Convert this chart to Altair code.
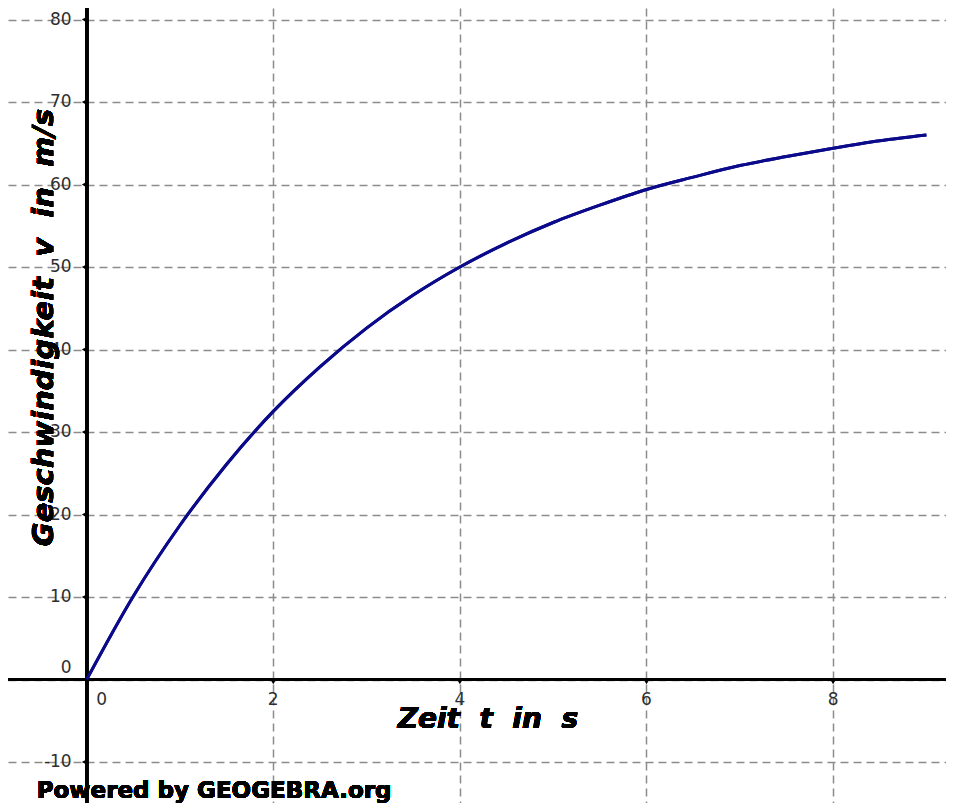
import altair as alt
import pandas as pd

# Curve values (time in s, speed in m/s)
t_values = [0, 0.5, 1, 1.5, 2, 2.5, 3, 3.5, 4, 4.5, 5, 5.5, 6, 6.5, 7, 7.5, 8, 8.5, 9]
v_values = [0, 10.1, 18.7, 26.1, 32.5, 37.9, 42.6, 46.6, 50.0, 52.9, 55.4, 57.5,
            59.4, 60.9, 62.3, 63.4, 64.4, 65.3, 66.0]

x_ticks = [0, 2, 4, 6, 8]
y_ticks = [-10, 0, 10, 20, 30, 40, 50, 60, 70, 80]

NB = "\u00a0"
x_title = f"Zeit {NB}t {NB}in {NB}s"
y_title = f"Geschwindigkeit {NB}v {NB}in {NB}m/s"
credit = "Powered by GEOGEBRA.org"

curve = pd.DataFrame({"t": t_values, "v": v_values})
xt = pd.DataFrame({"t": x_ticks, "lab": [str(v) for v in x_ticks]})
yt = pd.DataFrame({"v": y_ticks, "lab": [str(v) for v in y_ticks]})

X_DOM = [-0.843, 9.21]
Y_DOM = [-14.97, 81.4]

xs = alt.Scale(domain=X_DOM, nice=False, zero=False)
ys = alt.Scale(domain=Y_DOM, nice=False, zero=False)

grid_style = dict(grid=True, gridDash=[8, 5], gridColor="#8c8c8c", gridWidth=1.5,
                  labels=False, ticks=False, domain=False, title=None)

line = alt.Chart(curve).mark_line(color="#0a0a8a", strokeWidth=3, interpolate="monotone").encode(
    x=alt.X("t:Q", scale=xs, axis=alt.Axis(values=[2, 4, 6, 8], **grid_style)),
    y=alt.Y("v:Q", scale=ys, axis=alt.Axis(values=y_ticks, **grid_style)),
)

yaxis_line = alt.Chart(curve).mark_rule(color="black", strokeWidth=3).encode(x=alt.datum(0))
xaxis_line = alt.Chart(curve).mark_rule(color="black", strokeWidth=3).encode(y=alt.datum(0))

xtick_marks = alt.Chart(xt[xt.t != 0]).mark_point(shape="triangle-down", filled=True, color="black",
                                                 size=18, opacity=1, yOffset=3).encode(
    x="t:Q", y=alt.datum(0))
ytick_marks = alt.Chart(yt[yt.v != 0]).mark_point(shape="triangle-left", filled=True, color="black",
                                                 size=18, opacity=1, xOffset=-3).encode(
    x=alt.datum(0), y="v:Q")

lab_style = dict(font="DejaVu Sans", fontSize=17, color="#2e2e2e")

xlab = alt.Chart(xt[xt.t != 0]).mark_text(align="center", baseline="middle", dy=20, **lab_style).encode(
    x="t:Q", y=alt.datum(0), text="lab:N")
xlab0 = alt.Chart(xt[xt.t == 0]).mark_text(align="center", baseline="middle", dy=20, dx=15, **lab_style).encode(
    x="t:Q", y=alt.datum(0), text="lab:N")
ylab = alt.Chart(yt[yt.v != 0]).mark_text(align="right", baseline="middle", dx=-15, **lab_style).encode(
    x=alt.datum(0), y="v:Q", text="lab:N")
ylab0 = alt.Chart(yt[yt.v == 0]).mark_text(align="right", baseline="middle", dx=-15, dy=-12, **lab_style).encode(
    x=alt.datum(0), y="v:Q", text="lab:N")

title_style = dict(font="DejaVu Sans", fontWeight="bold", fontStyle="italic", color="black")

xtitle = alt.Chart(curve).mark_text(align="center", baseline="alphabetic", fontSize=28, **title_style).encode(
    x=alt.datum(4.3), y=alt.datum(-5.88), text=alt.value(x_title))
ytitle = alt.Chart(curve).mark_text(align="center", baseline="alphabetic", angle=270, fontSize=29,
                                    **title_style).encode(
    x=alt.datum(-0.36), y=alt.datum(42.67), text=alt.value(y_title))
credit_t = alt.Chart(curve).mark_text(align="left", baseline="alphabetic", fontSize=23,
                                      font="DejaVu Sans", fontWeight="bold", color="black").encode(
    x=alt.datum(-0.536), y=alt.datum(-14.36), text=alt.value(credit))

chart = alt.layer(
    line, yaxis_line, xaxis_line, xtick_marks, ytick_marks, line,
    xlab, xlab0, ylab, ylab0, xtitle, ytitle, credit_t
).properties(
    width=938, height=795, autosize=alt.AutoSizeParams(type="none"), padding=0
).configure(background="white").configure_view(stroke=None)

chart.save("out.html", embed_options={"renderer": "svg", "actions": False})
